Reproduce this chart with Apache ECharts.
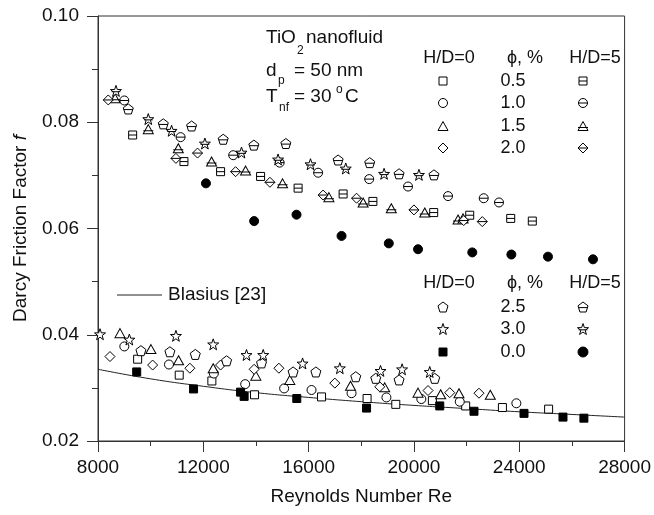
<!DOCTYPE html>
<html><head><meta charset="utf-8">
<script src="https://cdn.jsdelivr.net/npm/echarts@6/dist/echarts.min.js"></script>
<style>html,body{margin:0;padding:0;background:#fff}#c{width:654px;height:515px}</style>
</head><body><div id="c"></div>
<script>
// ---- axis ticks ----
const xTicks = [8000, 12000, 16000, 20000, 24000, 28000];
const yTicks = [0.02, 0.04, 0.06, 0.08, 0.10];
const phiLabels = ['0.5', '1.0', '1.5', '2.0', '2.5', '3.0', '0.0'];

// ---- H/D = 0 (plain tube) : [Re, f] ----
const hd0_phi05 = [[9505,0.0354],[11085,0.0324],[12325,0.0313],[13945,0.0287],[16490,0.0283],[18220,0.0280],[19310,0.0269],[20700,0.0276],[21965,0.0266],[23360,0.0263],[25115,0.0260]];
const hd0_phi10 = [[9000,0.0378],[10695,0.0344],[12400,0.0327],[13590,0.0307],[15070,0.0299],[16110,0.0296],[17630,0.0290],[18955,0.0282],[20280,0.0279],[21740,0.0274],[23890,0.0271]];
const hd0_phi15 = [[8835,0.0403],[10010,0.0373],[11060,0.0352],[12375,0.0337],[13995,0.0323],[15285,0.0315],[17590,0.0304],[18890,0.0301],[20155,0.0291],[21015,0.0288],[21710,0.0290],[22900,0.0287]];
const hd0_phi20 = [[8455,0.0359],[10075,0.0343],[11490,0.0337],[12655,0.0343],[13930,0.0335],[14870,0.0337],[16995,0.0309],[18700,0.0302],[20535,0.0295],[21360,0.0291],[22470,0.0290]];
const hd0_phi25 = [[9630,0.0370],[10730,0.0368],[11695,0.0363],[12885,0.0351],[14210,0.0347],[15410,0.0330],[16275,0.0330],[17790,0.0321],[18550,0.0318],[19435,0.0315],[20790,0.0318]];
const hd0_phi30 = [[8076,0.0401],[9190,0.0391],[10960,0.0398],[12375,0.0382],[13640,0.0362],[14275,0.0362],[15770,0.0346],[17185,0.0337],[18730,0.0332],[19550,0.0335],[20600,0.0330]];
const hd0_phi00 = [[9470,0.0330],[11630,0.0298],[13415,0.0292],[13550,0.0284],[15550,0.0280],[18200,0.0262],[20980,0.0266],[22280,0.0256],[24180,0.0252],[25660,0.0245],[26455,0.0243]];

// ---- H/D = 5 (with insert) : [Re, f] ----
const hd5_phi05 = [[9316,0.0776],[11264,0.0726],[12656,0.0707],[14175,0.0698],[15600,0.0676],[17310,0.0665],[18440,0.0651],[20750,0.0630],[22118,0.0625],[23675,0.0619],[24495,0.0614]];
const hd5_phi10 = [[8998,0.0841],[11137,0.0772],[13135,0.0738],[14900,0.0724],[16360,0.0705],[18300,0.0693],[19775,0.0679],[21295,0.0661],[22650,0.0657],[23230,0.0649]];
const hd5_phi15 = [[8650,0.0845],[9910,0.0787],[11050,0.0751],[12313,0.0726],[13605,0.0709],[15010,0.0685],[16770,0.0659],[18070,0.0649],[19140,0.0638],[20410,0.0630],[21675,0.0617],[21865,0.0619]];
const hd5_phi20 = [[8390,0.0842],[10960,0.0732],[11780,0.0742],[13225,0.0707],[14530,0.0687],[16550,0.0663],[17820,0.0657],[20000,0.0635],[21890,0.0615],[22595,0.0613]];
const hd5_phi25 = [[9150,0.0825],[10480,0.0797],[11555,0.0793],[12755,0.0768],[13920,0.0757],[15135,0.0760],[17120,0.0729],[18320,0.0724],[19435,0.0703],[20760,0.0701]];
const hd5_phi30 = [[8683,0.0859],[9910,0.0806],[10795,0.0784],[12060,0.0760],[13450,0.0743],[14840,0.0730],[16070,0.0721],[17410,0.0713],[18865,0.0703],[20190,0.0701]];
const hd5_phi00 = [[12100,0.0685],[13930,0.0614],[15540,0.0626],[17250,0.0586],[19045,0.0572],[20155,0.0561],[22215,0.0555],[23700,0.0551],[25090,0.0547],[26800,0.0542]];

// ---- Blasius [23] curve ----
const blasius = [[8000,0.0335],[10000,0.0317],[12000,0.0303],[14000,0.0291],[16000,0.0282],[18000,0.0274],[20000,0.0267],[22000,0.0261],[24000,0.0255],[26000,0.0250],[28000,0.0245]];

// ---- marker shapes (unit box 0..10) ----
const POLY = {
  sq: [[0,0],[10,0],[10,10],[0,10]],
  tr: [[5,0],[10,9],[0,9]],
  di: [[5,0],[10,5],[5,10],[0,5]],
  pe: [[5,0],[10,3.8],[8.1,10],[1.9,10],[0,3.8]],
  st: [[5,0],[6.176,3.382],[9.755,3.455],[6.902,5.618],[7.939,9.045],[5,7],[2.061,9.045],[3.098,5.618],[0.245,3.455],[3.824,3.382]]
};
const kinds = ['sq', 'ci', 'tr', 'di', 'pe', 'st', 'sq'];
const kinds5 = ['sq', 'ci', 'tr', 'di', 'pe', 'st', 'ci'];
const bars = { sq: [0,5,10,5], ci: [0,5,10,5], tr: [0,6,10,6], di: [0,5,10,5], pe: [0.4,5.6,9.6,5.6], st: [1.2,5.2,8.8,5.2] };
const sizes = [[8,8],[9,9],[10,9],[10,10],[10,10],[11,11],[8,8]];

function pathOf(kind, bar) {
  let p;
  if (kind === 'ci') p = 'M0,5A5,5,0,1,1,10,5A5,5,0,1,1,0,5Z';
  else p = 'M' + POLY[kind].map(q => q[0] + ',' + q[1]).join('L') + 'Z';
  if (bar) { const b = bars[kind]; p += 'M' + b[0] + ',' + b[1] + 'L' + b[2] + ',' + b[3]; }
  return 'path://' + p;
}

const hd0 = [hd0_phi05, hd0_phi10, hd0_phi15, hd0_phi20, hd0_phi25, hd0_phi30, hd0_phi00];
const hd5 = [hd5_phi05, hd5_phi10, hd5_phi15, hd5_phi20, hd5_phi25, hd5_phi30, hd5_phi00];

const FONT = '"Liberation Sans", Arial, sans-serif';
const series = [];
hd0.forEach((d, i) => {
  series.push({
    name: 'H/D=0 ' + phiLabels[i], type: 'scatter', data: d,
    symbol: pathOf(kinds[i], false), symbolSize: sizes[i],
    itemStyle: { color: i === 6 ? '#000' : '#fff', borderColor: '#000', borderWidth: 1, opacity: 1 },
    z: 3
  });
});
hd5.forEach((d, i) => {
  series.push({
    name: 'H/D=5 ' + phiLabels[i], type: 'scatter', data: d,
    symbol: pathOf(kinds5[i], i !== 6), symbolSize: i === 6 ? [9,9] : sizes[i],
    itemStyle: { color: i === 6 ? '#000' : '#fff', borderColor: '#000', borderWidth: 1, opacity: 1 },
    z: 3
  });
});
series.push({
  name: 'Blasius [23]', type: 'line', data: blasius, smooth: true, showSymbol: false,
  lineStyle: { color: '#222', width: 1 }, z: 2
});

// ---- legend / annotation graphics ----
const g = [];
function txt(x, y, s, size, align) {
  g.push({ type: 'text', x: x, y: y, z: 100,
    style: { text: s, font: size + 'px ' + FONT, fill: '#111', align: align || 'left', verticalAlign: 'middle' } });
}
function sym(kind, bar, cx, cy, sz, filled) {
  const st = { fill: filled ? '#000' : '#fff', stroke: '#000', lineWidth: 1 };
  let bx0 = 0, by0 = 0, bx1 = 10, by1 = 10;
  if (kind === 'ci') {
    g.push({ type: 'circle', z: 100, shape: { cx: cx, cy: cy, r: sz[0] / 2 }, style: st });
  } else {
    const pts = POLY[kind];
    bx0 = Math.min(...pts.map(p => p[0])); bx1 = Math.max(...pts.map(p => p[0]));
    by0 = Math.min(...pts.map(p => p[1])); by1 = Math.max(...pts.map(p => p[1]));
    const sc = p => [cx - sz[0] / 2 + (p[0] - bx0) / (bx1 - bx0) * sz[0], cy - sz[1] / 2 + (p[1] - by0) / (by1 - by0) * sz[1]];
    g.push({ type: 'polygon', z: 100, shape: { points: pts.map(sc) }, style: st });
  }
  if (bar) {
    const b = bars[kind];
    const sx = v => cx - sz[0] / 2 + (v - bx0) / (bx1 - bx0) * sz[0];
    const sy = v => cy - sz[1] / 2 + (v - by0) / (by1 - by0) * sz[1];
    g.push({ type: 'line', z: 101, shape: { x1: sx(b[0]), y1: sy(b[1]), x2: sx(b[2]), y2: sy(b[3]) }, style: { stroke: '#000', lineWidth: 1 } });
  }
}
// annotation block
txt(266, 38, 'TiO', 19); txt(297, 51, '2', 12); txt(306, 38, 'nanofluid', 19);
txt(266, 71, 'd', 19); txt(278, 81, 'p', 12); txt(294, 71, '= 50 nm', 19);
txt(266, 97, 'T', 19); txt(279, 108, 'nf', 12); txt(294, 97, '= 30', 19); txt(336, 90, 'o', 12); txt(345, 97, 'C', 19);
// table 1
const rows1 = [81, 103, 126, 148];
txt(449, 58, 'H/D=0', 18, 'center'); txt(525, 58, 'ϕ, %', 18, 'center'); txt(595, 58, 'H/D=5', 18, 'center');
rows1.forEach((y, k) => { sym(kinds[k], false, 443, y, sizes[k], false); txt(513, y, phiLabels[k], 18, 'center'); sym(kinds5[k], true, 583, y, sizes[k], false); });
// table 2
const rows2 = [307, 329, 352];
txt(449, 283, 'H/D=0', 18, 'center'); txt(525, 283, 'ϕ, %', 18, 'center'); txt(595, 283, 'H/D=5', 18, 'center');
rows2.forEach((y, j) => { const k = j + 4; sym(kinds[k], false, 443, y, sizes[k], k === 6); txt(513, y, phiLabels[k], 18, 'center'); sym(kinds5[k], k !== 6, 583, y, k === 6 ? [10,10] : sizes[k], k === 6); });
// Blasius legend
g.push({ type: 'line', z: 100, shape: { x1: 117, y1: 295, x2: 162, y2: 295 }, style: { stroke: '#222', lineWidth: 1 } });
txt(168, 295, 'Blasius [23]', 19);

const chart = echarts.init(document.getElementById('c'), null, { renderer: 'canvas' });
chart.setOption({
  animation: false,
  backgroundColor: '#fff',
  grid: { left: 98, right: 29, top: 16, bottom: 74, show: true, borderColor: '#333', borderWidth: 1, backgroundColor: 'transparent' },
  xAxis: {
    type: 'value', min: xTicks[0], max: xTicks[xTicks.length - 1], interval: xTicks[1] - xTicks[0],
    name: 'Reynolds Number Re', nameLocation: 'middle', nameGap: 46,
    nameTextStyle: { fontSize: 19, fontFamily: FONT, color: '#111' },
    axisLine: { lineStyle: { color: '#333', width: 1 } },
    axisTick: { show: true, length: 11, inside: false, lineStyle: { color: '#333' } },
    minorTick: { show: true, splitNumber: 2, length: 5, lineStyle: { color: '#333' } },
    axisLabel: { fontSize: 19, fontFamily: FONT, color: '#111', margin: 17, formatter: v => String(v) },
    splitLine: { show: false }
  },
  yAxis: {
    type: 'value', min: yTicks[0], max: yTicks[yTicks.length - 1], interval: 0.02,
    name: 'Darcy Friction Factor {i|f}', nameLocation: 'middle', nameGap: 68,
    nameTextStyle: { fontSize: 19, fontFamily: FONT, color: '#111',
      rich: { i: { fontSize: 19, fontFamily: FONT, fontStyle: 'italic', color: '#111' } } },
    axisLine: { show: true, lineStyle: { color: '#333', width: 1 } },
    axisTick: { show: true, length: 11, inside: false, lineStyle: { color: '#333' } },
    minorTick: { show: true, splitNumber: 2, length: 6, lineStyle: { color: '#333' } },
    axisLabel: { fontSize: 19, fontFamily: FONT, color: '#111', margin: 19, formatter: v => v.toFixed(2) },
    splitLine: { show: false }
  },
  graphic: g,
  series: series
});
</script></body></html>
